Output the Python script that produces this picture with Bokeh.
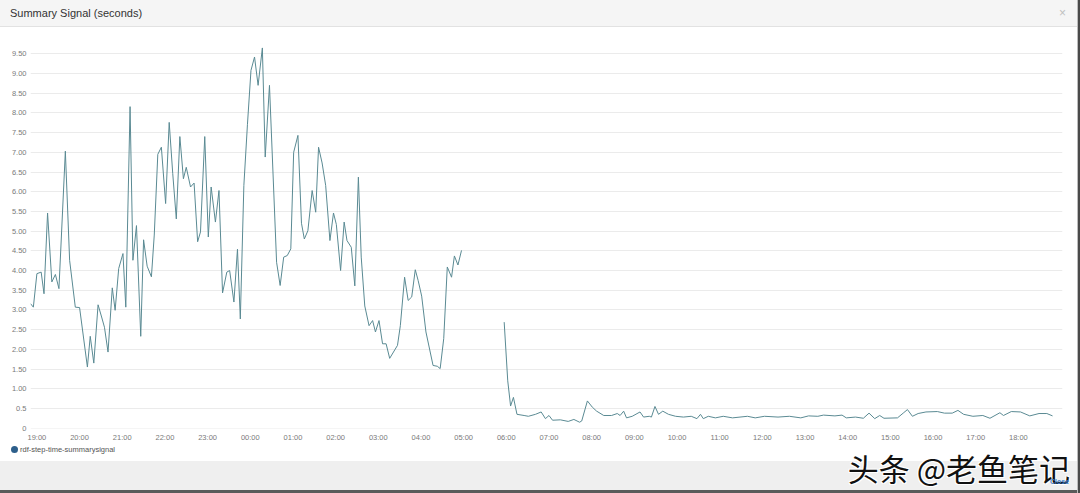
from bokeh.plotting import figure
from bokeh.models import (FixedTicker, Range1d, ColumnDataSource, Div)
from bokeh.layouts import column, row
from bokeh.embed import file_html
from bokeh.resources import INLINE

title_text = "Summary Signal (seconds)"
series_name = "rdf-step-time-summarysignal"
close_text = "Close"
watermark_text = "头条 @老鱼笔记"
legend_color = "#2d5f8b"

# segment 1 (evening -> early morning)
times_a = ["18:51", "18:55", "19:00", "19:06", "19:10", "19:15", "19:21", "19:26", "19:31", "19:40",
           "19:46", "19:54", "20:00", "20:11", "20:15", "20:20", "20:26", "20:31", "20:35", "20:40",
           "20:46", "20:50", "20:55", "21:01", "21:05", "21:11", "21:15", "21:20", "21:26", "21:30",
           "21:35", "21:41", "21:45", "21:50", "21:55", "22:01", "22:06", "22:11", "22:16", "22:21",
           "22:26", "22:30", "22:36", "22:41", "22:46", "22:50", "22:56", "23:01", "23:05", "23:11",
           "23:16", "23:21", "23:27", "23:31", "23:37", "23:42", "23:46", "23:51", "23:56", "00:01",
           "00:06", "00:11", "00:17", "00:21", "00:27", "00:37", "00:42", "00:47", "00:52", "00:57",
           "01:01", "01:07", "01:12", "01:16", "01:21", "01:27", "01:32", "01:36", "01:41", "01:46",
           "01:52", "01:57", "02:01", "02:07", "02:12", "02:16", "02:22", "02:27", "02:32", "02:36",
           "02:41", "02:47", "02:52", "02:56", "03:01", "03:06", "03:11", "03:16", "03:27", "03:31",
           "03:37", "03:42", "03:47", "03:52", "03:56", "04:01", "04:07", "04:17", "04:23", "04:27",
           "04:32", "04:37", "04:43", "04:47", "04:52", "04:57"]
values_a = [3.16, 3.07, 3.92, 3.96, 3.41, 5.46, 3.71, 3.90, 3.54, 7.03,
            4.26, 3.07, 3.06, 1.55, 2.33, 1.65, 3.13, 2.82, 2.56, 1.93,
            3.56, 2.99, 4.05, 4.43, 3.07, 8.16, 4.26, 5.14, 2.33, 4.78,
            4.11, 3.84, 4.90, 6.95, 7.13, 5.70, 7.76, 6.46, 5.31, 7.40,
            6.33, 6.62, 6.12, 6.22, 4.73, 4.98, 7.40, 4.85, 6.12, 5.23,
            6.03, 3.43, 3.96, 4.00, 3.20, 4.54, 2.77, 6.16, 7.70, 9.08,
            9.42, 8.70, 9.65, 6.88, 8.70, 4.21, 3.62, 4.34, 4.38, 4.55,
            7.00, 7.43, 5.20, 4.80, 5.01, 6.03, 5.48, 7.13, 6.73, 6.16,
            4.76, 5.46, 5.17, 4.00, 5.23, 4.76, 4.59, 3.61, 6.37, 4.34,
            3.10, 2.60, 2.73, 2.44, 2.73, 2.14, 2.14, 1.77, 2.10, 2.60,
            3.83, 3.24, 3.33, 4.02, 3.75, 3.35, 2.44, 1.59, 1.57, 1.51,
            2.27, 4.09, 3.83, 4.37, 4.14, 4.51]

# segment 2 (morning -> evening)
times_b = ["05:57", "06:02", "06:06", "06:10", "06:15", "06:25", "06:31", "06:41", "06:49", "06:55",
           "07:00", "07:05", "07:16", "07:27", "07:35", "07:43", "07:46", "07:54", "08:01", "08:07",
           "08:17", "08:28", "08:36", "08:40", "08:45", "08:49", "08:57", "09:08", "09:13", "09:21",
           "09:24", "09:29", "09:34", "09:40", "09:48", "09:58", "10:09", "10:20", "10:28", "10:33",
           "10:37", "10:44", "10:54", "11:05", "11:18", "11:39", "11:50", "12:03", "12:22", "12:38",
           "12:54", "13:05", "13:18", "13:26", "13:42", "13:52", "13:58", "14:11", "14:22", "14:30",
           "14:38", "14:45", "14:51", "15:10", "15:18", "15:24", "15:31", "15:39", "15:50", "16:06",
           "16:16", "16:27", "16:35", "16:43", "16:56", "17:10", "17:20", "17:34", "17:39", "17:50",
           "18:03", "18:16", "18:29", "18:40", "18:48"]
values_b = [2.69, 1.20, 0.56, 0.78, 0.35, 0.32, 0.30, 0.35, 0.41, 0.24,
            0.32, 0.20, 0.21, 0.17, 0.22, 0.15, 0.18, 0.69, 0.53, 0.43,
            0.32, 0.32, 0.37, 0.32, 0.43, 0.26, 0.30, 0.41, 0.28, 0.30,
            0.28, 0.55, 0.35, 0.43, 0.35, 0.30, 0.28, 0.30, 0.24, 0.35,
            0.24, 0.30, 0.26, 0.30, 0.26, 0.30, 0.26, 0.30, 0.28, 0.30,
            0.26, 0.31, 0.30, 0.33, 0.31, 0.33, 0.26, 0.28, 0.25, 0.38,
            0.24, 0.32, 0.25, 0.26, 0.38, 0.47, 0.30, 0.37, 0.41, 0.42,
            0.38, 0.38, 0.45, 0.35, 0.30, 0.32, 0.25, 0.39, 0.32, 0.42,
            0.41, 0.31, 0.37, 0.37, 0.31]

y_ticks = [0, 0.5, 1.0, 1.5, 2.0, 2.5, 3.0, 3.5, 4.0, 4.5, 5.0, 5.5, 6.0, 6.5, 7.0, 7.5, 8.0, 8.5, 9.0, 9.5]
y_tick_labels = ["0", "0.5", "1.00", "1.50", "2.00", "2.50", "3.00", "3.50", "4.00", "4.50", "5.00",
                 "5.50", "6.00", "6.50", "7.00", "7.50", "8.00", "8.50", "9.00", "9.50"]
x_tick_labels = ["19:00", "20:00", "21:00", "22:00", "23:00", "00:00", "01:00", "02:00", "03:00",
                 "04:00", "05:00", "06:00", "07:00", "08:00", "09:00", "10:00", "11:00", "12:00",
                 "13:00", "14:00", "15:00", "16:00", "17:00", "18:00"]


def to_ms(labels, day0=0):
    out, day, prev = [], day0, None
    for s in labels:
        h, m = map(int, s.split(":"))
        mins = h * 60 + m
        if prev is not None and mins < prev:
            day += 1
        prev = mins
        out.append((day * 1440 + mins) * 60000.0)
    return out


xa = to_ms(times_a, 0)
xb = to_ms(times_b, 1)
x_ticks = to_ms(x_tick_labels, 0)
x_start = to_ms(["18:51"], 0)[0]
x_end = to_ms(["19:02"], 1)[0]

FONT = "Liberation Sans"
LINE_COLOR = "#5a8a93"
W = 1077

# ---- header bar ----
header_html = (
    f'<div style="position:relative;width:{W}px;height:27px;background:#f5f5f5;'
    'border-bottom:1px solid #e2e2e2;box-sizing:border-box;font-family:\'Liberation Sans\',sans-serif;">'
    f'<span style="position:absolute;left:10px;top:6px;font-size:11px;color:#333;white-space:nowrap;">{title_text}</span>'
    '<span style="position:absolute;left:1059px;top:5px;font-size:12px;color:#c0c0c0;">×</span>'
    '</div>')
header = Div(text=header_html, width=W, height=27, margin=0)

# ---- chart ----
p = figure(frame_width=1032, frame_height=392, x_axis_type="datetime", output_backend="svg",
           toolbar_location=None, x_range=Range1d(x_start, x_end), y_range=Range1d(-0.01, 9.94),
           min_border_left=30, min_border_right=15, min_border_top=9, min_border_bottom=15)
p.outline_line_color = None
p.background_fill_color = "white"
p.border_fill_color = "white"

src_a = ColumnDataSource(dict(x=xa, y=values_a))
src_b = ColumnDataSource(dict(x=xb, y=values_b))
p.line("x", "y", source=src_a, line_color=LINE_COLOR, line_width=1.0)
p.line("x", "y", source=src_b, line_color=LINE_COLOR, line_width=1.0)

p.yaxis.ticker = FixedTicker(ticks=y_ticks)
p.yaxis.major_label_overrides = {t: l for t, l in zip(y_ticks, y_tick_labels)}
p.xaxis.ticker = FixedTicker(ticks=x_ticks)
p.xaxis.major_label_overrides = {t: l for t, l in zip(x_ticks, x_tick_labels)}
for ax in (p.xaxis[0], p.yaxis[0]):
    ax.axis_line_color = None
    ax.major_tick_line_color = None
    ax.minor_tick_line_color = None
    ax.major_tick_out = 0
    ax.major_tick_in = 0
    ax.minor_tick_out = 0
    ax.major_label_text_font = FONT
    ax.major_label_text_font_size = "7.5px"
    ax.major_label_text_color = "#7a7a7a"
p.xaxis.major_label_standoff = 4
p.yaxis.major_label_standoff = 4
p.xgrid.grid_line_color = None
p.ygrid.grid_line_color = "#ebebeb"
p.ygrid.grid_line_width = 1

# ---- footer: legend row + grey bar ----
footer_html = (
    f'<div style="position:relative;width:{W}px;height:50px;background:#ffffff;'
    'font-family:\'Liberation Sans\',sans-serif;">'
    f'<span style="position:absolute;left:11px;top:2px;width:7px;height:7px;border-radius:50%;background:{legend_color};"></span>'
    f'<span style="position:absolute;left:20px;top:1px;font-size:7.5px;line-height:9px;color:#555;white-space:nowrap;">{series_name}</span>'
    f'<div style="position:absolute;left:0;top:17px;width:{W}px;height:29px;background:#efefef;"></div>'
    f'<div style="position:absolute;left:0;top:46px;width:{W}px;height:4px;background:#5a5a5a;"></div>'
    f'<span style="position:absolute;right:7px;top:6px;font-size:31px;line-height:35px;color:#111;'
    'font-family:\'Noto Sans CJK SC\';white-space:nowrap;'
    'text-shadow:-1px -1px 0 #fff,1px -1px 0 #fff,-1px 1px 0 #fff,1px 1px 0 #fff;">'
    f'{watermark_text}</span>'
    f'<span style="position:absolute;left:1050px;top:33px;font-size:7px;font-weight:bold;color:#3f7fc8;z-index:2;">{close_text}</span>'
    '</div>')
footer = Div(text=footer_html, width=W, height=50, margin=0)

edge = Div(text='<div style="width:3px;height:493px;background:linear-gradient(to right,#bdbdbd 0,#bdbdbd 1px,#4a4a4a 1px,#4a4a4a 3px);"></div>',
           width=3, height=493, margin=0)

layout = row(column(header, p, footer, spacing=0), edge, spacing=0)

open("out.html", "w").write(file_html(layout, INLINE))
